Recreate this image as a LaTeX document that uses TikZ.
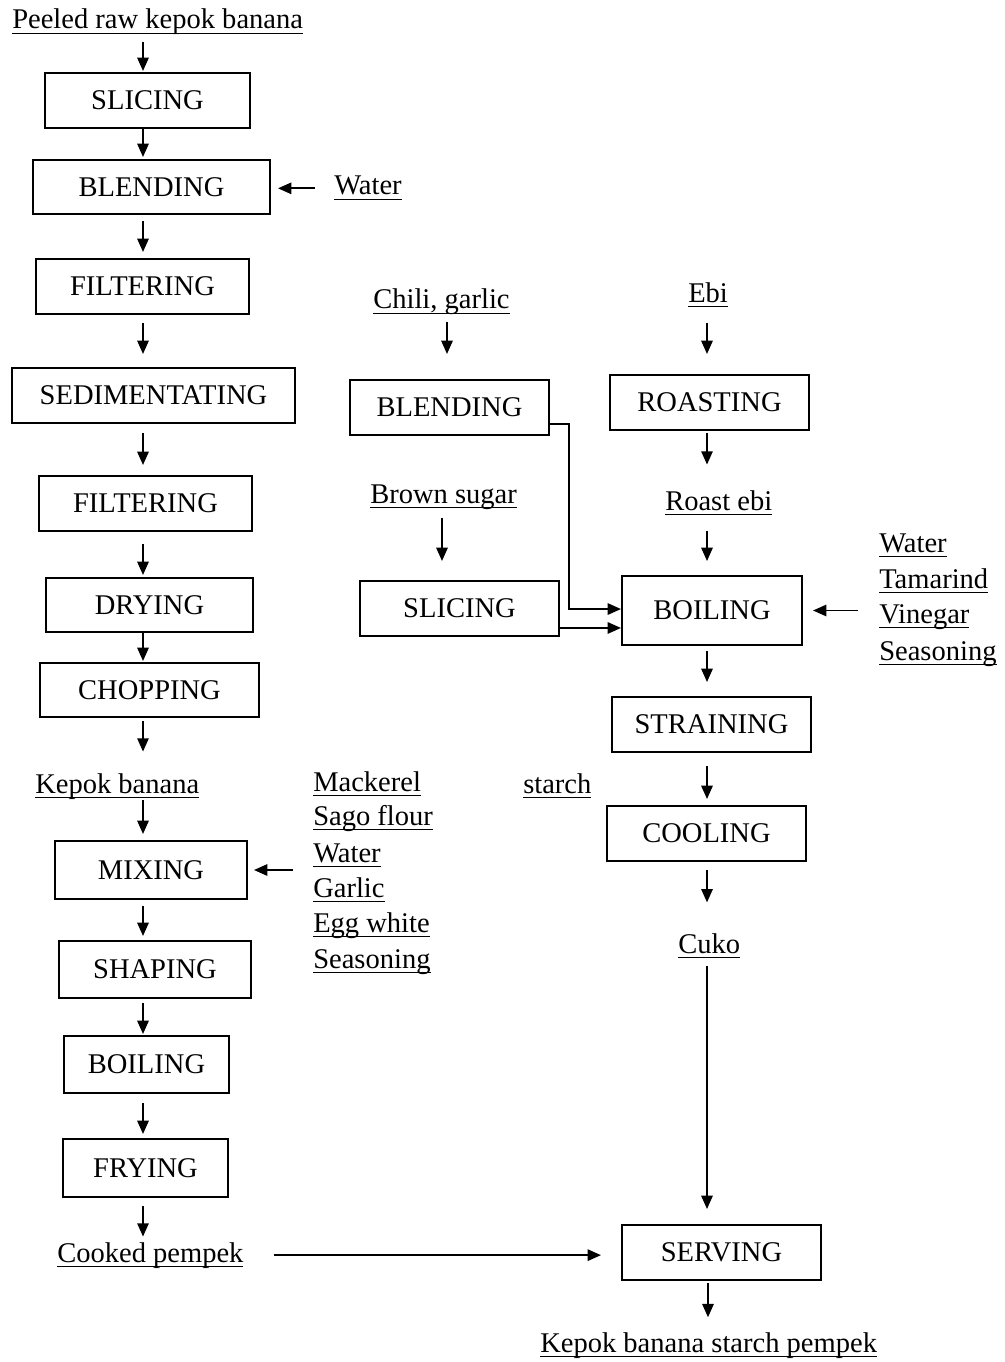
\documentclass[tikz,border=0pt]{standalone}
\usepackage{fontspec}
\setmainfont{Liberation Serif}
\usetikzlibrary{arrows.meta}
\newcommand\myul[1]{\setbox0=\hbox{#1}\rlap{\rule[-4pt]{\wd0}{1.1pt}}\box0}
\newcommand\bx[6]{\node[box, minimum width={(#4-#2)*0.75pt}, minimum height={(#5-#3)*0.75pt}] (#1) at ({(#2+#4)/2},{(#3+#5)/2}) {#6};}
\newcommand\lbl[4]{\node[lab] (#1) at (#2,#3) {\myul{#4}};}
\begin{document}
\begin{tikzpicture}[x=0.75pt,y=-0.75pt,
  box/.style={draw, line width=1.5pt, inner sep=0pt, font=\fontsize{21.4}{25}\selectfont},
  lab/.style={anchor=base west, inner sep=0pt, font=\fontsize{21.4}{25}\selectfont},
  arr/.style={line width=1.4pt, -{Triangle[length=10pt,width=8.5pt]}}]
\fill[white] (0,0) rectangle (1005,1362);
\useasboundingbox (0,0) rectangle (1005,1362);
\coordinate (cL) at (143,0);
\coordinate (cM1) at (447,0);
\coordinate (cM2) at (442,0);
\coordinate (cR) at (707,0);
\coordinate (cS) at (708,0);
% boxes
\bx{slice}{45}{73}{250}{128}{SLICING}
\bx{blend}{33}{160}{270}{214}{BLENDING}
\bx{filt}{36}{259}{249}{314}{FILTERING}
\bx{sedi}{12}{368}{295}{423}{SEDIMENTATING}
\bx{filtb}{39}{476}{252}{531}{FILTERING}
\bx{dry}{46}{578}{253}{632}{DRYING}
\bx{chop}{40}{663}{259}{717}{CHOPPING}
\bx{mix}{55}{841}{247}{899}{MIXING}
\bx{shape}{59}{941}{251}{998}{SHAPING}
\bx{boilL}{64}{1036}{229}{1093}{BOILING}
\bx{fry}{63}{1139}{228}{1197}{FRYING}
\bx{blendM}{350}{380}{549}{435}{BLENDING}
\bx{sliceM}{360}{581}{559}{636}{SLICING}
\bx{roast}{610}{375}{809}{430}{ROASTING}
\bx{boilR}{622}{576}{802}{645}{BOILING}
\bx{strain}{612}{697}{811}{752}{STRAINING}
\bx{cool}{607}{806}{806}{861}{COOLING}
\bx{serve}{622}{1225}{821}{1280}{SERVING}
% labels
\lbl{peeled}{12}{29}{Peeled raw kepok banana}
\lbl{waterA}{334}{195}{Water}
\lbl{chili}{373}{309}{Chili, garlic}
\lbl{ebi}{688}{302}{Ebi}
\lbl{brown}{370}{503}{Brown sugar}
\lbl{roastebi}{665}{510}{Roast ebi}
\lbl{bw}{879}{552}{Water}
\lbl{bt}{879}{588}{Tamarind}
\lbl{bv}{879}{623}{Vinegar}
\lbl{bs}{879}{660}{Seasoning}
\lbl{kepok}{35}{793}{Kepok banana}
\lbl{m1}{313}{791}{Mackerel}
\lbl{m2}{313}{825}{Sago flour}
\lbl{m3}{313}{862}{Water}
\lbl{m4}{313}{897}{Garlic}
\lbl{m5}{313}{932}{Egg white}
\lbl{m6}{313}{968}{Seasoning}
\lbl{starch}{523}{793}{starch}
\lbl{cuko}{678}{953}{Cuko}
\lbl{cooked}{57}{1262}{Cooked pempek}
\lbl{final}{540}{1352}{Kepok banana starch pempek}
% left column arrows
\draw[arr, shorten <=5.25pt, shorten >=0.75pt] (peeled.south -| cL) -- (slice.north -| cL);
\draw[arr, shorten >=1.5pt] (slice.south -| cL) -- (blend.north -| cL);
\draw[arr, shorten <=4.5pt, shorten >=4.5pt] (blend.south -| cL) -- (filt.north -| cL);
\draw[arr, shorten <=6pt, shorten >=9.75pt] (filt.south -| cL) -- (sedi.north -| cL);
\draw[arr, shorten <=6.75pt, shorten >=7.5pt] (sedi.south -| cL) -- (filtb.north -| cL);
\draw[arr, shorten <=9pt, shorten >=1.5pt] (filtb.south -| cL) -- (dry.north -| cL);
\draw[arr, shorten >=0.75pt] (dry.south -| cL) -- (chop.north -| cL);
\draw[arr, shorten <=2.25pt, shorten >=16pt] (chop.south -| cL) -- (kepok.north -| cL);
\draw[arr, shorten <=0.75pt, shorten >=4.5pt] (kepok.south -| cL) -- (mix.north -| cL);
\draw[arr, shorten <=4.5pt, shorten >=3pt] (mix.south -| cL) -- (shape.north -| cL);
\draw[arr, shorten <=3pt, shorten >=0.75pt] (shape.south -| cL) -- (boilL.north -| cL);
\draw[arr, shorten <=6.75pt, shorten >=3pt] (boilL.south -| cL) -- (fry.north -| cL);
\draw[arr, shorten <=6pt, shorten >=4pt] (fry.south -| cL) -- (cooked.north -| cL);
% side inputs
\draw[arr, shorten <=14.25pt, shorten >=5.25pt] (waterA.west) -- (waterA.west -| blend.east);
\draw[arr, shorten <=15pt, shorten >=4.5pt] (m1.west |- mix.east) -- (mix.east);
\draw[arr, shorten <=15.75pt, shorten >=7.5pt] (bw.west |- boilR.east) -- (boilR.east);
\draw[arr, shorten <=22.5pt, shorten >=15pt] (cooked.east) -- (cooked.east -| serve.west);
% middle column
\draw[arr, shorten <=5.25pt, shorten >=18.75pt] (chili.south -| cM1) -- (blendM.north -| cM1);
\draw[arr, shorten <=6.75pt, shorten >=14.25pt] (brown.south -| cM2) -- (sliceM.north -| cM2);
\draw[arr] ([yshift=9pt]blendM.south east) -- ++(14.25pt,0) |- ([yshift=1.1pt]boilR.west);
\draw[arr] ([yshift=-14.6pt]sliceM.east) -- ([yshift=-14.6pt]sliceM.east -| boilR.west);
% right column
\draw[arr, shorten <=11.25pt, shorten >=15pt] (ebi.south -| cR) -- (roast.north -| cR);
\draw[arr, shorten <=1.5pt, shorten >=19pt] (roast.south -| cR) -- (roastebi.north -| cR);
\draw[arr, shorten <=11.25pt, shorten >=10.5pt] (roastebi.south -| cR) -- (boilR.north -| cR);
\draw[arr, shorten <=3.75pt, shorten >=10.5pt] (boilR.south -| cR) -- (strain.north -| cR);
\draw[arr, shorten <=9.75pt, shorten >=4.5pt] (strain.south -| cR) -- (cool.north -| cR);
\draw[arr, shorten <=6pt, shorten >=22.9pt] (cool.south -| cR) -- (cuko.north -| cR);
\draw[arr, shorten <=5.25pt, shorten >=11.25pt] (cuko.south -| cR) -- (serve.north -| cR);
\draw[arr, shorten <=1.5pt, shorten >=11pt] (serve.south -| cS) -- (final.north -| cS);
\end{tikzpicture}
\end{document}
